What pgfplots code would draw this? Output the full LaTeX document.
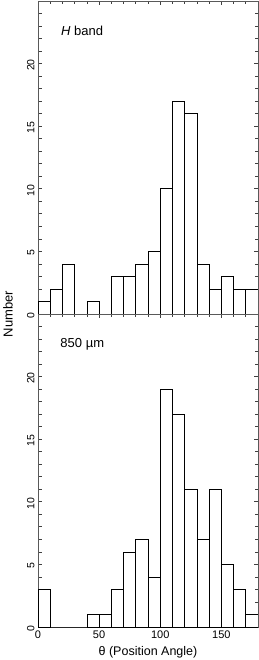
\documentclass[border=0pt]{standalone}
\usepackage{fontspec}
\setmainfont{Liberation Sans}
\usepackage{pgfplots}
\pgfplotsset{compat=1.18}
\begin{document}
\begin{tikzpicture}
\useasboundingbox (-38pt,-33pt) rectangle (221pt,627pt);
\pgfplotsset{
 hist/.style={
  scale only axis, width=220pt, height=313pt,
  xmin=0, xmax=180, ymin=0, ymax=25,
  xtick={0,50,100,150}, minor xtick={10,20,30,40,60,70,80,90,110,120,130,140,160,170},
  ytick={0,5,10,15,20}, minor ytick={1,2,3,4,6,7,8,9,11,12,13,14,16,17,18,19,21,22,23,24},
  tick align=inside,
  xtick pos=top,
  ytick pos=both,
  major tick length=4pt, minor tick length=3.5pt,
  axis line style={black!65, line width=0.7pt},
  every tick/.style={black!75, line width=0.7pt},
  tick label style={font=\fontsize{11}{13}\selectfont},
  yticklabel style={rotate=90, anchor=south, xshift=-1.5pt, font=\fontsize{10.5}{12}\selectfont},
  /pgf/number format/assume math mode=true,
 }
}
\begin{axis}[hist, at={(0pt,313pt)}, xticklabels={}]
\addplot[ybar interval, draw=black, fill=white, line width=0.6pt] coordinates {
(0,1) (10,2) (20,4) (30,0) (40,1) (50,0) (60,3) (70,3) (80,4) (90,5)
(100,10) (110,17) (120,16) (130,4) (140,2) (150,3) (160,2) (170,2) (180,2)};
\node[anchor=west, font=\fontsize{13}{15}\selectfont] at (axis cs:16,22.6) {\textit{H} band};
\end{axis}
\begin{axis}[hist, at={(0pt,0pt)}, xticklabel pos=bottom,
  xlabel={θ (Position Angle)},
  xlabel style={font=\fontsize{12.5}{14}\selectfont, yshift=-1pt}]
\addplot[ybar interval, draw=black, fill=white, line width=0.6pt] coordinates {
(0,3) (10,0) (20,0) (30,0) (40,1) (50,1) (60,3) (70,6) (80,7) (90,4)
(100,19) (110,17) (120,11) (130,7) (140,11) (150,5) (160,3) (170,1) (180,1)};
\node[anchor=west, font=\fontsize{13}{15}\selectfont] at (axis cs:15.5,22.6) {850 µm};
\end{axis}
\node[rotate=90, font=\fontsize{13}{15}\selectfont] at (-30pt,313pt) {Number};
\end{tikzpicture}
\end{document}
